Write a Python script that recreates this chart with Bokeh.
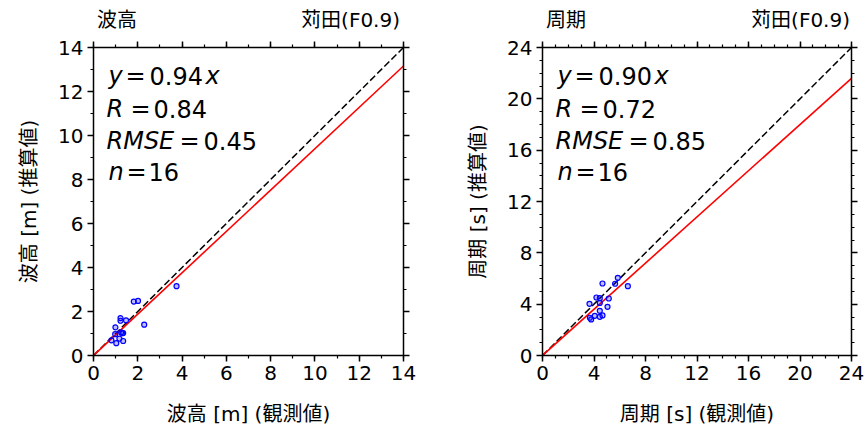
from bokeh.plotting import figure
from bokeh.models import (Range1d, LinearAxis, SingleIntervalTicker, Label,
                          ColumnDataSource, Div, CustomJSTickFormatter)
from bokeh.layouts import row, column
from bokeh.embed import file_html
from bokeh.resources import INLINE

# ---- data ----
hs_obs = [3.75, 1.82, 2.01, 1.22, 1.22, 1.47, 2.29, 0.99, 1.30, 1.34, 0.98, 1.17, 1.34, 1.03, 0.81, 1.25]
hs_est = [3.15, 2.45, 2.48, 1.70, 1.58, 1.60, 1.40, 1.28, 1.02, 1.02, 0.97, 0.77, 0.66, 0.56, 0.69, 1.05]
tp_obs = [4.66, 5.85, 5.64, 6.63, 4.19, 4.45, 5.15, 3.65, 4.45, 5.05, 4.45, 4.06, 4.66, 4.45, 3.68, 3.78]
tp_est = [5.61, 6.05, 5.59, 5.40, 4.52, 4.47, 4.44, 4.03, 4.10, 3.79, 3.48, 3.09, 3.12, 3.01, 2.94, 2.81]

hs_stats = {"slope": 0.94, "R": "0.84", "RMSE": "0.45", "n": "16"}
tp_stats = {"slope": 0.90, "R": "0.72", "RMSE": "0.85", "n": "16"}

hs_max, hs_tick = 14, 2
tp_max, tp_tick = 24, 4

titles = ["波高", "周期"]
station = "苅田(F0.9)"

FONT = "DejaVu Sans, Noto Sans CJK JP"
LBL = "20px"
STAT = "24px"
HEAD_H = 30


def make(xs, ys, stats, vmax, step, nminor, xlabel, ylabel,
         border_left, border_right, frame_w):
    p = figure(frame_width=frame_w, frame_height=308,
               x_range=Range1d(0, vmax), y_range=Range1d(0, vmax),
               x_axis_type=None, y_axis_type=None,
               output_backend="svg", toolbar_location=None,
               min_border_left=border_left, min_border_right=border_right,
               min_border_top=47 - HEAD_H, min_border_bottom=73)
    p.outline_line_color = None
    p.background_fill_color = "white"
    p.border_fill_color = "white"

    for loc in ["below", "left", "above", "right"]:
        ax = LinearAxis(ticker=SingleIntervalTicker(interval=step, num_minor_ticks=nminor))
        ax.axis_line_width = 1.5
        ax.major_tick_line_width = 1.5
        ax.minor_tick_line_width = 1.2
        ax.major_tick_in = 0
        ax.major_tick_out = 6
        ax.minor_tick_in = 0
        ax.minor_tick_out = 3
        ax.major_label_text_font = FONT
        ax.major_label_text_font_size = LBL
        ax.major_label_text_color = "black"
        ax.axis_label_text_font = FONT
        ax.axis_label_text_font_size = LBL
        ax.axis_label_text_font_style = "normal"
        ax.axis_label_text_color = "black"
        if loc == "below":
            ax.axis_label = xlabel
            ax.major_label_standoff = 4
            ax.axis_label_standoff = 19
        elif loc == "left":
            ax.axis_label = ylabel
            ax.major_label_standoff = 4
            ax.axis_label_standoff = 14
        else:
            ax.formatter = CustomJSTickFormatter(code="return ''")
            ax.major_label_standoff = 0
        p.add_layout(ax, loc)

    src = ColumnDataSource(dict(x=xs, y=ys))
    line_x = [0, vmax]
    p.line(line_x, line_x, line_color="black", line_width=1.5, line_dash="7 3")
    p.line(line_x, [stats["slope"] * v for v in line_x], line_color="red", line_width=1.6)
    p.scatter("x", "y", source=src, size=5, line_color="blue", line_width=1.2,
              fill_color="blue", fill_alpha=0.25)

    def lab(text, xo, yo, style="normal"):
        p.add_layout(Label(x=0, y=vmax, x_offset=xo, y_offset=yo, text=text,
                           text_font=FONT, text_font_size=STAT, text_font_style=style,
                           text_align="left", text_baseline="alphabetic",
                           text_color="black"))

    # stats block
    lab("y", 15, -28, "italic")
    lab("=", 32, -28)
    lab("%.2f" % stats["slope"], 56, -28)
    lab("x", 112, -28, "italic")
    lab("R", 13, -61, "italic")
    lab("=", 37, -61)
    lab(stats["R"], 60, -61)
    lab("RMSE", 13, -93, "italic")
    lab("=", 86, -93)
    lab(stats["RMSE"], 110, -93)
    lab("n", 15, -124, "italic")
    lab("=", 33, -124)
    lab(stats["n"], 55, -124)
    return p


p1 = make(hs_obs, hs_est, hs_stats, hs_max, hs_tick, 2,
          "波高 [m] (観測値)", "波高 [m] (推算値)", 93, 58, 310)
p2 = make(tp_obs, tp_est, tp_stats, tp_max, tp_tick, 4,
          "周期 [s] (観測値)", "周期 [s] (推算値)", 81, 13, 309)

span = "position:absolute;top:10px;line-height:20px;white-space:nowrap;"
head_html = (
    f'<div style="position:relative;width:864px;height:{HEAD_H}px;'
    f'font-family:\'DejaVu Sans\',\'Noto Sans CJK JP\';font-size:20px;color:black;">'
    f'<span style="{span}left:97px;">{titles[0]}</span>'
    f'<div style="{span}left:0px;width:400px;text-align:right;">{station}</div>'
    f'<span style="{span}left:546px;">{titles[1]}</span>'
    f'<div style="{span}left:0px;width:850px;text-align:right;">{station}</div>'
    f'</div>'
)
head = Div(text=head_html, width=864, height=HEAD_H, margin=(0, 0, 0, 0))

layout = column(head, row(p1, p2))
open("out.html", "w").write(file_html(layout, INLINE))
